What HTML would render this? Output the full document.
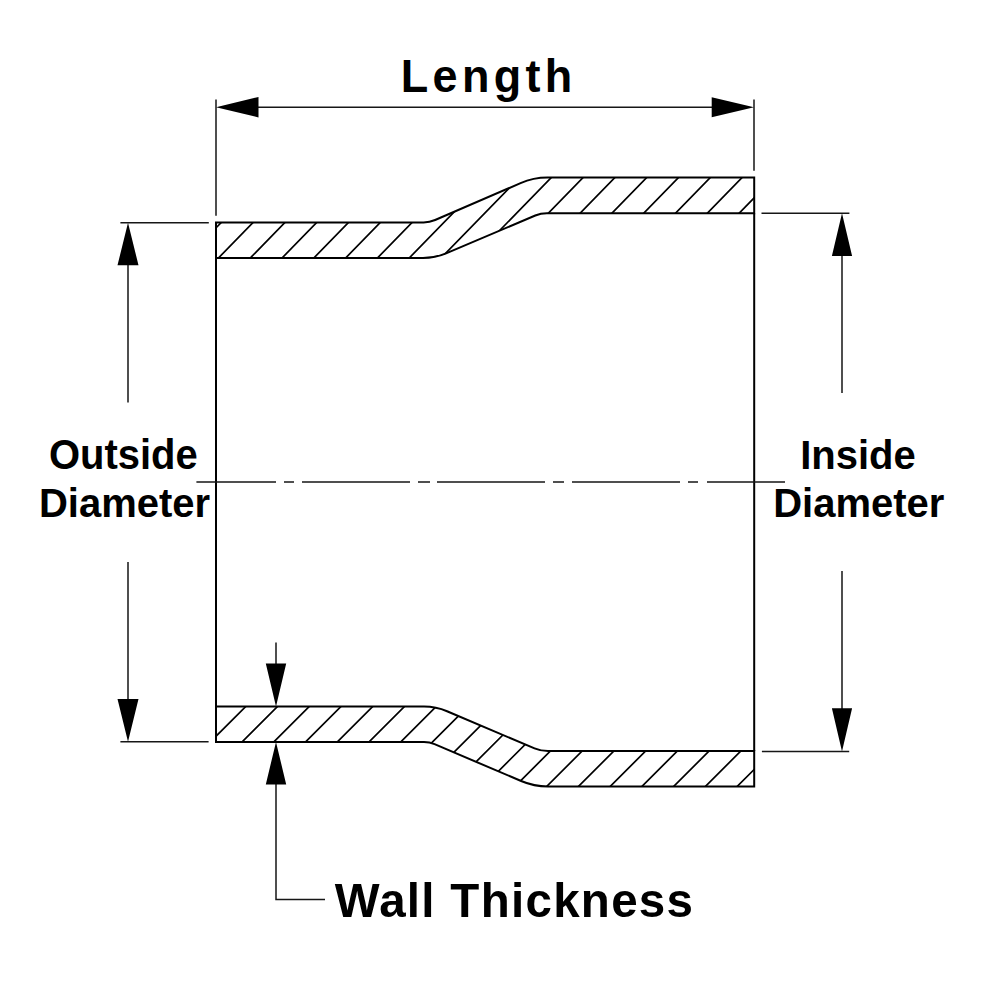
<!DOCTYPE html>
<html><head><meta charset="utf-8"><style>
html,body{margin:0;padding:0;background:#fff;width:1000px;height:1000px;overflow:hidden}
svg{display:block}
text{font-family:"Liberation Sans",sans-serif;font-weight:bold;fill:#000}
</style></head><body>
<svg width="1000" height="1000" viewBox="0 0 1000 1000">
<defs>
<clipPath id="ct"><path d="M216,222.4 H423.6 Q429.6,222.4 435.11,220.02 L520.55,183.15 Q533.4,177.6 547.4,177.6 H754.2 V213.2 H546.8 Q540.8,213.2 535.27,215.54 L446.05,253.32 Q435,258 423,258 H216 Z"/></clipPath>
<clipPath id="cb"><path d="M216,706.6 H424 Q436,706.6 447.05,711.28 L534.55,748.37 Q541,751.1 548,751.1 H754.2 V786.5 H548 Q534,786.5 521.12,781.01 L434.56,744.15 Q429.5,742 424,742 H216 Z"/></clipPath>
</defs>
<rect width="1000" height="1000" fill="#fff"/>
<g fill="none" stroke="#000" stroke-width="1.7">
<path clip-path="url(#ct)" d="M149.97,263 L238.11,172.6 M181.77,263 L269.91,172.6 M213.57,263 L301.72,172.6 M245.38,263 L333.51,172.6 M277.18,263 L365.32,172.6 M308.97,263 L397.12,172.6 M340.77,263 L428.91,172.6 M372.57,263 L460.71,172.6 M404.37,263 L492.51,172.6 M436.17,263 L524.31,172.6 M467.97,263 L556.11,172.6 M499.77,263 L587.91,172.6 M531.57,263 L619.71,172.6 M563.37,263 L651.51,172.6 M595.17,263 L683.31,172.6 M626.97,263 L715.11,172.6 M658.77,263 L746.91,172.6 M690.57,263 L778.71,172.6 M722.37,263 L810.51,172.6 M754.17,263 L842.31,172.6 M785.97,263 L874.11,172.6"/>
<path clip-path="url(#cb)" d="M160.76,791.5 L250.66,701.6 M192.5,791.5 L282.4,701.6 M224.24,791.5 L314.14,701.6 M255.98,791.5 L345.88,701.6 M287.72,791.5 L377.62,701.6 M319.46,791.5 L409.36,701.6 M351.2,791.5 L441.1,701.6 M382.94,791.5 L472.84,701.6 M414.68,791.5 L504.58,701.6 M446.42,791.5 L536.32,701.6 M478.16,791.5 L568.06,701.6 M509.9,791.5 L599.8,701.6 M541.64,791.5 L631.54,701.6 M573.38,791.5 L663.28,701.6 M605.12,791.5 L695.02,701.6 M636.86,791.5 L726.76,701.6 M668.6,791.5 L758.5,701.6 M700.34,791.5 L790.24,701.6 M732.08,791.5 L821.98,701.6 M763.82,791.5 L853.72,701.6"/>
</g>
<g fill="none" stroke="#000" stroke-width="2.0" stroke-linejoin="miter">
<path d="M216,222.4 H423.6 Q429.6,222.4 435.11,220.02 L520.55,183.15 Q533.4,177.6 547.4,177.6 H754.2 V213.2 H546.8 Q540.8,213.2 535.27,215.54 L446.05,253.32 Q435,258 423,258 H216 Z"/>
<path d="M216,706.6 H424 Q436,706.6 447.05,711.28 L534.55,748.37 Q541,751.1 548,751.1 H754.2 V786.5 H548 Q534,786.5 521.12,781.01 L434.56,744.15 Q429.5,742 424,742 H216 Z"/>
<path d="M216,258 V706.6 M754.2,213.2 V751.1"/>
</g>
<g fill="none" stroke="#161616" stroke-width="1.5">
<path d="M216,99.5 V215.8 M754,99.5 V170.7 M240,107.2 H730 M120.4,222.7 H208.8 M120.4,741.8 H208.6 M128,260 V402.4 M128,562 V705 M761.5,213.2 H849.4 M761.9,751.4 H849.2 M842,250 V392.9 M842,571 V714 M276,642.4 V670 M276,778 V899.6 H325"/>
<path d="M196.4,482 H276 M284,482 H294 M302,482 H410 M418,482 H430 M437,482 H545 M553,482 H564 M572,482 H680 M688,482 H698 M707,482 H785"/>
</g>
<path fill="#000" d="M216,107.2 L258.5,97 L258.5,117.4 Z M754,107.2 L711.7,97.2 L711.7,117.2 Z M128,222.7 L117.5,265.3 L138.5,265.3 Z M128,741.8 L117.5,698.9 L138.5,698.9 Z M842,213.2 L831.9,256 L852.1,256 Z M842,751.4 L831.9,708.3 L852.1,708.3 Z M276,706.6 L265.8,663.6 L286.2,663.6 Z M276,742 L265.8,784.4 L286.2,784.4 Z"/>
<text x="400.8" y="91.9" font-size="45" letter-spacing="4.3" transform="matrix(1 0 0 1.015 0 -1.379)">Length</text>
<text x="48.9" y="469.3" font-size="40" transform="matrix(1 0 0 1.045 0 -21.118)">Outside</text>
<text x="38.9" y="516.7" font-size="40" transform="matrix(1 0 0 1.03 0 -15.501)">Diameter</text>
<text x="800.2" y="468.9" font-size="40" transform="matrix(1 0 0 1.035 0 -16.411)">Inside</text>
<text x="773.2" y="516.9" font-size="40" transform="matrix(1 0 0 1.03 0 -15.507)">Diameter</text>
<text x="334.8" y="917" font-size="47.5" letter-spacing="1.3" transform="matrix(1 0 0 1.03 0 -27.51)">Wall Thickness</text>
</svg>
</body></html>
